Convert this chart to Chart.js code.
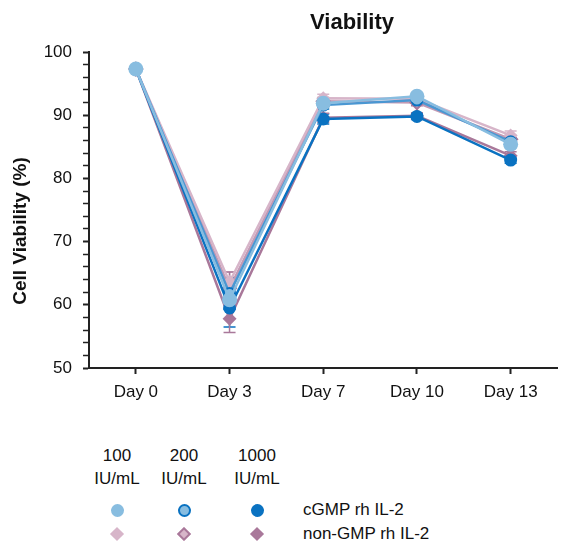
<!DOCTYPE html>
<html>
<head>
<meta charset="utf-8">
<script src="https://cdn.jsdelivr.net/npm/chart.js@4/dist/chart.umd.min.js"></script>
<style>
  body { margin: 0; background: #fff; font-family: "Liberation Sans", Arial, sans-serif; }
  #wrap { position: relative; width: 566px; height: 542px; }
  #box { position: absolute; left: 0; top: 0; width: 566px; height: 420px; }
  .hd { position: absolute; width: 70px; text-align: center; font-size: 17px; line-height: 23px; color: #111; }
  .lbl { position: absolute; font-size: 17px; line-height: 20px; color: #111; }
  .dot { position: absolute; width: 13px; height: 13px; border-radius: 50%; box-sizing: border-box; }
  .dia { position: absolute; width: 10px; height: 10px; transform: rotate(45deg); box-sizing: border-box; }
</style>
</head>
<body>
<div id="wrap">
  <div id="box"><canvas id="chart"></canvas></div>
  <div id="legend"></div>
</div>
<script>
const days = ["Day 0", "Day 3", "Day 7", "Day 10", "Day 13"];

const cgmp100 = [97.3, 60.8, 91.9, 93.0, 85.4];
const cgmp200 = [97.3, 61.8, 91.6, 92.4, 85.8];
const cgmp1000 = [97.3, 59.5, 89.4, 89.8, 82.9];
const non100 = [97.3, 63.6, 92.7, 92.6, 86.8];
const non200 = [97.3, 62.6, 92.2, 92.0, 86.2];
const non1000 = [97.3, 57.8, 89.6, 89.9, 83.6];

const errCgmp100 = [0.3, 1.5, 0.6, 0.4, 0.6];
const errCgmp200 = [0.3, 2.5, 0.6, 0.5, 0.6];
const errCgmp1000 = [0.3, 3.0, 0.8, 0.5, 0.5];
const errNon100 = [0.3, 1.6, 0.6, 0.5, 0.7];
const errNon200 = [0.3, 2.6, 0.6, 0.5, 0.6];
const errNon1000 = [0.3, 2.2, 0.7, 0.5, 0.6];

const doseLabels = ["100", "200", "1000"];
const groupLabels = ["cGMP rh IL-2", "non-GMP rh IL-2"];

const lightBlue = "#88bde0";
const darkBlue = "#0a72c1";
const midBlue = "#4a97d2";
const lightPink = "#d7b5c9";
const mauve = "#a9789a";
const midPink = "#c29ab4";

function makeSet(label, data, err, line, fill, border, style, bw, r) {
  return {
    label: label,
    data: data,
    err: err,
    borderColor: line,
    backgroundColor: fill,
    pointBackgroundColor: fill,
    pointBorderColor: border,
    pointBorderWidth: bw,
    pointStyle: style,
    pointRadius: r,
    borderWidth: 2.5,
    tension: 0,
  };
}

const errorBars = {
  id: "errorBars",
  beforeDatasetsDraw(chart) {
    const ctx = chart.ctx;
    const y = chart.scales.y;
    chart.data.datasets.forEach((ds, i) => {
      const meta = chart.getDatasetMeta(i);
      meta.data.forEach((pt, j) => {
        const e = ds.err[j];
        if (!e) return;
        const top = y.getPixelForValue(ds.data[j] + e);
        const bot = y.getPixelForValue(ds.data[j] - e);
        ctx.save();
        ctx.strokeStyle = ds.pointBorderColor === ds.pointBackgroundColor ? ds.borderColor : ds.pointBorderColor;
        ctx.lineWidth = 1.5;
        ctx.beginPath();
        ctx.moveTo(pt.x, top);
        ctx.lineTo(pt.x, bot);
        ctx.moveTo(pt.x - 6, top);
        ctx.lineTo(pt.x + 6, top);
        ctx.moveTo(pt.x - 6, bot);
        ctx.lineTo(pt.x + 6, bot);
        ctx.stroke();
        ctx.restore();
      });
    });
  },
  afterDraw(chart) {
    const ctx = chart.ctx;
    ctx.save();
    ctx.fillStyle = "#111";
    ctx.font = "bold 22px 'Liberation Sans', Arial, sans-serif";
    ctx.textAlign = "center";
    ctx.textBaseline = "alphabetic";
    ctx.fillText("Viability", 352, 29);
    ctx.translate(21, 231);
    ctx.rotate(-Math.PI / 2);
    ctx.font = "bold 19px 'Liberation Sans', Arial, sans-serif";
    ctx.textBaseline = "middle";
    ctx.fillText("Cell Viability (%)", 0, 0);
    ctx.restore();
  },
};

new Chart(document.getElementById("chart"), {
  type: "line",
  data: {
    labels: days,
    datasets: [
      makeSet("cGMP 100", cgmp100, errCgmp100, lightBlue, lightBlue, lightBlue, "circle", 0, 7.5),
      makeSet("cGMP 200", cgmp200, errCgmp200, midBlue, lightBlue, darkBlue, "circle", 2, 5.5),
      makeSet("cGMP 1000", cgmp1000, errCgmp1000, darkBlue, darkBlue, darkBlue, "circle", 0, 6.5),
      makeSet("non-GMP 100", non100, errNon100, lightPink, lightPink, lightPink, "rectRot", 0, 7),
      makeSet("non-GMP 200", non200, errNon200, midPink, lightPink, mauve, "rectRot", 2, 6.5),
      makeSet("non-GMP 1000", non1000, errNon1000, mauve, mauve, mauve, "rectRot", 0, 7),
    ],
  },
  plugins: [errorBars],
  options: {
    responsive: true,
    maintainAspectRatio: false,
    animation: false,
    layout: {
      padding: { top: 52, right: 1, left: 0, bottom: 0 },
    },
    scales: {
      x: {
        offset: true,
        afterFit: (scale) => { scale.height = 52; },
        grid: {
          drawOnChartArea: false,
          offset: false,
          tickLength: 6,
          tickColor: "#222",
          tickWidth: 2,
        },
        border: { color: "#222", width: 2 },
        ticks: {
          color: "#111",
          padding: 8,
          font: { family: "'Liberation Sans', Arial, sans-serif", size: 17 },
        },
      },
      y: {
        min: 50,
        max: 100,
        afterFit: (scale) => { scale.width = 89; },
        grid: {
          drawOnChartArea: false,
          tickLength: 6,
          tickColor: "#222",
          tickWidth: (c) => (c.tick && c.tick.value % 10 === 0 ? 2 : 1.5),
        },
        border: { color: "#222", width: 2 },
        ticks: {
          stepSize: 2,
          autoSkip: false,
          color: "#111",
          padding: 11,
          font: { family: "'Liberation Sans', Arial, sans-serif", size: 17 },
          callback: (v) => (v % 10 === 0 ? v : ""),
        },
      },
    },
    plugins: {
      legend: { display: false },
      tooltip: { enabled: false },
    },
  },
});

// legend grid below the chart
const legend = document.getElementById("legend");
const colX = [117, 184, 257];
const rowY = [510, 534];
const circleStyles = [
  { bg: lightBlue, bd: "none" },
  { bg: lightBlue, bd: "2.5px solid " + darkBlue },
  { bg: darkBlue, bd: "none" },
];
const diaStyles = [
  { bg: lightPink, bd: "none" },
  { bg: lightPink, bd: "2.5px solid " + mauve },
  { bg: mauve, bd: "none" },
];
let html = "";
doseLabels.forEach((d, i) => {
  html += `<div class="hd" style="left:${colX[i] - 35}px;top:444px">${d}<br>IU/mL</div>`;
  const c = circleStyles[i];
  html += `<div class="dot" style="left:${colX[i] - 6.5}px;top:${rowY[0] - 6.5}px;background:${c.bg};border:${c.bd}"></div>`;
  const m = diaStyles[i];
  html += `<div class="dia" style="left:${colX[i] - 5}px;top:${rowY[1] - 5}px;background:${m.bg};border:${m.bd}"></div>`;
});
groupLabels.forEach((g, i) => {
  html += `<div class="lbl" style="left:303px;top:${rowY[i] - 10}px">${g}</div>`;
});
legend.innerHTML = html;
</script>
</body>
</html>
